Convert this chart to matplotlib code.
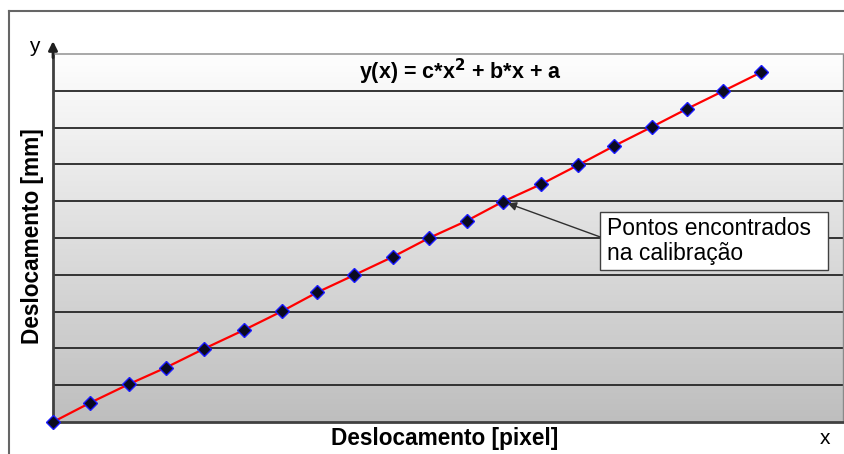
import numpy as np
import matplotlib
matplotlib.use("Agg")
import matplotlib.pyplot as plt
from matplotlib.lines import Line2D
from matplotlib.patches import Rectangle
from matplotlib.colors import LinearSegmentedColormap

plt.rcParams['font.family'] = ['Liberation Sans', 'DejaVu Sans']

# Data: pixel displacement vs. mm displacement
x_pixel = [0, 37, 76, 113, 151, 191, 229, 264, 301, 340,
           376, 414, 450, 488, 525, 561, 599, 634, 670, 708]
y_mm = [0.0, 0.52, 1.03, 1.48, 1.99, 2.5, 3.01, 3.52, 3.99, 4.49,
        5.0, 5.47, 5.99, 6.46, 6.98, 7.5, 8.02, 8.51, 8.99, 9.5]
grid_levels = [1, 2, 3, 4, 5, 6, 7, 8, 9]

title_text = r"y(x) = c*x$^{\mathbf{2}}$ + b*x + a"
xlabel_text = "Deslocamento [pixel]"
ylabel_text = "Deslocamento [mm]"
annot_text = "Pontos encontrados\nna calibração"

W, H = 845, 454
fig = plt.figure(figsize=(W / 100, H / 100), dpi=100)
fig.patch.set_facecolor('white')

L, R, T, B = 53, 843, 54, 422
ax = fig.add_axes([L / W, (H - B) / H, (R - L) / W, (B - T) / H])

# gradient background (light at top, grey at bottom)
grad = np.linspace(0, 1, 256).reshape(-1, 1)
cmap = LinearSegmentedColormap.from_list('g', ['#fefefe', '#bebebe'])
ax.imshow(grad, aspect='auto', cmap=cmap, extent=[0, 790, 0, 10],
          origin='upper', zorder=0)
ax.set_xlim(0, 790)
ax.set_ylim(0, 10)

for g in grid_levels:
    ax.axhline(g, color='#262626', lw=1.3, zorder=1)

ax.plot(x_pixel, y_mm, color='red', lw=1.6, zorder=3)
ax.plot(x_pixel, y_mm, linestyle='none', marker='D', markersize=7,
        markerfacecolor='#0a0a20', markeredgecolor='#1a1aff',
        markeredgewidth=1.0, zorder=4, clip_on=False)

ax.set_xticks([])
ax.set_yticks([])
ax.spines['top'].set_color('#9a9a9a')
ax.spines['top'].set_linewidth(1.2)
ax.spines['right'].set_color('#8a8a8a')
ax.spines['right'].set_linewidth(1.0)
ax.spines['bottom'].set_color('#404040')
ax.spines['bottom'].set_linewidth(2.0)
ax.spines['left'].set_color('#404040')
ax.spines['left'].set_linewidth(2.0)

# y-axis arrow extension
ax.annotate('', xy=(0, 1.035), xytext=(0, 0.99), xycoords='axes fraction',
            arrowprops=dict(arrowstyle='-|>', color='#202020', lw=2.0,
                            mutation_scale=13, shrinkA=0, shrinkB=0),
            annotation_clip=False)

# title equation
ax.text(460 - L, 10 * (1 - (72 - T) / (B - T)), title_text,
        ha='center', va='center', fontsize=15.5, fontweight='bold', zorder=5)

# annotation box, text and arrow
ax.add_patch(Rectangle((547, 4.13), 228, 1.58, facecolor='white',
                       edgecolor='#404040', lw=1.0, zorder=6))
ax.text(554, 4.92, annot_text, ha='left', va='center', fontsize=16.5,
        linespacing=1.1, zorder=7)
ax.annotate('', xy=(452, 5.97), xytext=(547, 5.03),
            arrowprops=dict(arrowstyle='-|>', color='#303030', lw=1.0,
                            mutation_scale=13, shrinkA=0, shrinkB=2),
            zorder=6)

# axis labels
fig.text(445 / W, 1 - 439 / H, xlabel_text, ha='center', va='center',
         fontsize=16.3, fontweight='bold')
fig.text(33 / W, 1 - 236 / H, ylabel_text, ha='center', va='center',
         fontsize=16.3, fontweight='bold', rotation=90)
fig.text(34 / W, 1 - 47 / H, 'y', ha='center', va='center', fontsize=15)
fig.text(825 / W, 1 - 439 / H, 'x', ha='center', va='center', fontsize=15)

# outer frame (left and top visible)
fig.add_artist(Line2D([9 / W, 9 / W], [0, 1 - 11 / H], transform=fig.transFigure,
                      color='#666666', lw=1.5))
fig.add_artist(Line2D([9 / W, 1], [1 - 11 / H, 1 - 11 / H], transform=fig.transFigure,
                      color='#666666', lw=1.5))

fig.savefig('out.png', dpi=100)
